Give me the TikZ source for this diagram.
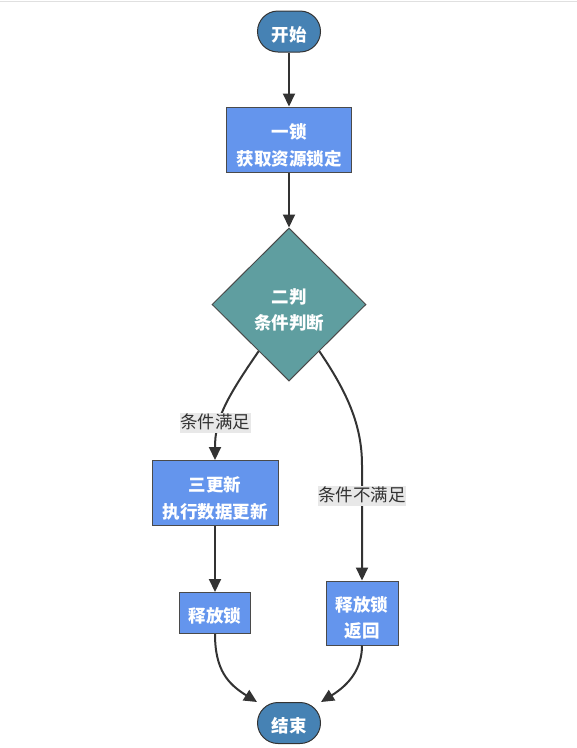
\documentclass[tikz,border=0pt]{standalone}
\usepackage{fontspec}
\setmainfont{Noto Sans CJK SC}
\usetikzlibrary{shapes.geometric,arrows.meta}
\definecolor{termc}{HTML}{4682B4}
\definecolor{boxc}{HTML}{6495ED}
\definecolor{decc}{HTML}{5F9EA0}
\definecolor{linec}{HTML}{333333}
\definecolor{lblbg}{HTML}{E8E8E8}
\definecolor{bordc}{HTML}{4A4A4A}
\begin{document}
\begin{tikzpicture}[x=1pt,y=-1pt,
  nodetxt/.style={text=white,font=\bfseries\fontsize{17.5}{26.5}\selectfont,align=center,inner sep=0pt},
  term/.style={rectangle,rounded corners=20.5pt,fill=termc,draw=linec,line width=1pt,minimum width=63pt,minimum height=41pt,inner sep=0pt},
  procbox/.style={rectangle,fill=boxc,draw=bordc,line width=1pt,inner sep=0pt},
  decbox/.style={diamond,fill=decc,draw=bordc,line width=1pt,minimum width=154pt,minimum height=153pt,inner sep=0pt},
  edge/.style={draw=linec,line width=2pt,-{Triangle[length=13pt,width=12pt]}},
  edgelbl/.style={fill=lblbg,text=linec,font=\fontsize{17.5}{21}\selectfont,inner xsep=0.5pt,inner ysep=2pt,text height=13pt,text depth=3pt}
]
\useasboundingbox (0,0) rectangle (577,748);
\draw[draw=black!12,line width=1pt] (0,1) -- (577,1);

\node[term,label={[nodetxt,yshift=-3pt]center:开始}] (s) at (289,31.5) {};
\node[procbox,minimum width=125pt,minimum height=65pt,
  label={[nodetxt,yshift=-6pt]center:一锁\\获取资源锁定}] (a) at (289,139.5) {};
\node[decbox,label={[nodetxt,yshift=-5.5pt]center:二判\\条件判断}] (d) at (289,304.5) {};
\node[procbox,minimum width=126pt,minimum height=65pt,
  label={[nodetxt,yshift=-5.5pt]center:三更新\\执行数据更新}] (t3) at (215,493) {};
\node[procbox,minimum width=71pt,minimum height=41pt,
  label={[nodetxt,yshift=-2.7pt]center:释放锁}] (t4) at (215,613) {};
\node[procbox,minimum width=72pt,minimum height=64pt,
  label={[nodetxt,yshift=-5pt]center:释放锁\\返回}] (t5) at (362,613) {};
\node[term,label={[nodetxt,yshift=-3pt]center:结束}] (e) at (289,723) {};

\coordinate (r1) at (362,465);

\draw[edge] (s.south) -- (a.north);
\draw[edge] (a.south) -- (d.north);
\draw[edge] (d.237) .. controls (225,400) and (215,420) .. (t3.north);
\draw[edge] (d.303) .. controls (347,392) and (362,425) .. (r1) -- (t5.north);
\draw[edge] (t3.south) -- (t4.north);
\draw[edge] (t4.south) .. controls (215,670) and (228,684) .. (e.north west);
\draw[edge] (t5.south) .. controls (362,668) and (350,684) .. (e.north east);

\node[edgelbl] (l1) at (215,423.3) {条件满足};
\node[edgelbl] (l2) at (362,496) {条件不满足};
\end{tikzpicture}
\end{document}
